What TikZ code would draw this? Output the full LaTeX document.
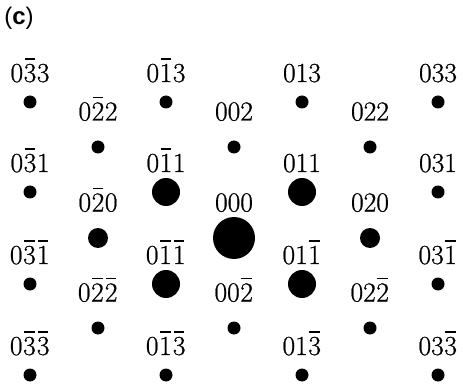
\documentclass[tikz,border=0pt]{standalone}
\usepackage{fontspec}
\newfontfamily\idxfont{Latin Modern Roman}[FakeBold=0.8]
\newfontfamily\tagfont{Liberation Sans}
\usetikzlibrary{positioning}
% barred index digit
\newcommand{\nb}[1]{\leavevmode\vbox{\offinterlineskip
  \hbox to 0.5em{\hfil\vrule width 0.38em height 1.8pt\hfil}\kern4pt
  \hbox to 0.5em{\hss#1\hss}}}

\begin{document}
\begin{tikzpicture}[x=1pt, y=-1pt,
  every node/.style={font=\idxfont\fontsize{27.5}{32}\selectfont},
  spot/.style={circle, fill=black, inner sep=0pt, minimum size=13pt},
  midspot/.style={spot, minimum size=20pt},
  bigspot/.style={spot, minimum size=28pt},
  centre/.style={spot, minimum size=42pt},
  idx/.style={inner sep=0pt, anchor=base}
]
\useasboundingbox (0,0) rectangle (463,390);

%% panel tag
\node[font=\tagfont\fontsize{24}{28}\selectfont] (tag) at (19,18) {(\textbf{c})};

%% odd columns
\foreach \x/\y/\lab/\sty/\nm in {
  30/102/{0\nb{3}3}/spot/m33, 30/192/{0\nb{3}1}/spot/m31,
  30/284/{0\nb{3}\nb{1}}/spot/mm31, 30/375/{0\nb{3}\nb{3}}/spot/mm33,
  166/102/{0\nb{1}3}/spot/m13, 166/192/{0\nb{1}1}/bigspot/m11,
  166/284/{0\nb{1}\nb{1}}/bigspot/mm11, 166/375/{0\nb{1}\nb{3}}/spot/mm13,
  302/102/{013}/spot/p13, 302/192/{011}/bigspot/p11,
  302/284/{01\nb{1}}/bigspot/pm11, 302/375/{01\nb{3}}/spot/pm13,
  438/102/{033}/spot/p33, 438/192/{031}/spot/p31,
  438/284/{03\nb{1}}/spot/pm31, 438/375/{03\nb{3}}/spot/pm33}
{
  \node[\sty] (d\nm) at (\x,\y) {};
  \node[idx] (l\nm) at (\x,\y-20) {\lab};
}

%% even columns
\foreach \x/\y/\lab/\sty/\nm in {
  98/147/{0\nb{2}2}/spot/m22, 98/238/{0\nb{2}0}/midspot/m20,
  98/328/{0\nb{2}\nb{2}}/spot/mm22,
  234/147/{002}/spot/p02, 234/238/{000}/centre/p00,
  234/328/{00\nb{2}}/spot/pm02,
  370/147/{022}/spot/p22, 370/238/{020}/midspot/p20,
  370/328/{02\nb{2}}/spot/pm22}
{
  \node[\sty] (d\nm) at (\x,\y) {};
  \node[idx] (l\nm) at (\x,\y-26.5) {\lab};
}

\end{tikzpicture}
\end{document}
